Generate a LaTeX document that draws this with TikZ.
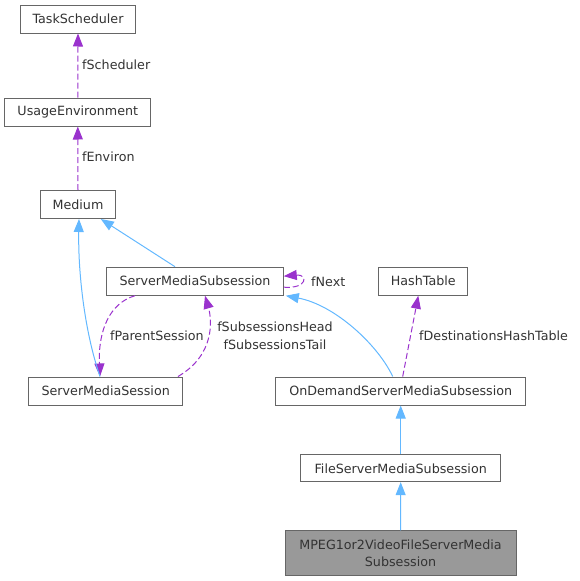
\documentclass[tikz,border=0pt]{standalone}
\usepackage{fontspec}
\setmainfont{DejaVu Sans}
\usetikzlibrary{arrows.meta}
\definecolor{inhblue}{HTML}{63B8FF}
\definecolor{usepurple}{HTML}{9A32CD}
\definecolor{boxgray}{HTML}{666666}
\definecolor{curgray}{HTML}{999999}
\definecolor{txtgray}{HTML}{333333}

\begin{document}
\begin{tikzpicture}[x=1pt,y=-1pt,
    every node/.style={font=\fontsize{12.7}{17.7}\selectfont,text=txtgray},
    cls/.style={draw=boxgray,fill=white,line width=1pt,minimum height=28pt,inner sep=0pt,align=center},
    inherit/.style={draw=inhblue,line width=1pt,-{Triangle[length=13pt,width=10pt]}},
    member/.style={draw=usepurple,line width=1pt,dash pattern=on 6pt off 3pt,-{Triangle[length=13pt,width=10pt]}},
    lbl/.style={anchor=west,inner sep=0pt}]

    \useasboundingbox (0,0) rectangle (579,581);

    % Left column (environment classes)
    \node[cls,minimum width=114.6pt] (ts) at (78,19) {TaskScheduler};
    \node[cls,minimum width=145.7pt] (ue) at (77.8,112) {UsageEnvironment};
    \node[cls,minimum width=74.6pt] (medium) at (78,204.5) {Medium};

    % Middle row
    \node[cls,minimum width=176.6pt] (smsub) at (195,281.2) {ServerMediaSubsession};
    \node[cls,minimum width=88.7pt] (hash) at (423.3,281.2) {HashTable};
    \node[cls,minimum width=154pt] (smses) at (105.7,391) {ServerMediaSession};
    \node[cls,minimum width=250pt] (ondemand) at (400.7,391) {OnDemandServerMediaSubsession};

    % Bottom chain
    \node[cls,minimum width=200pt,minimum height=26.7pt] (fsms) at (400.7,468.3) {FileServerMediaSubsession};
    \node[cls,fill=curgray,minimum width=231pt,minimum height=44.7pt] (mpeg) at (400.5,553.3)
      {MPEG1or2VideoFileServerMedia\\Subsession};

    % Usage relations
    \draw[member] (ue.north) -- (ts.south);
    \draw[member] (medium.north) -- (ue.south);
    \draw[member] ([yshift=-6pt]smsub.east) .. controls (308,289) and (308,274) .. ([yshift=5pt]smsub.east);
    \draw[member] ([xshift=-60pt]smsub.south) .. controls (110,303) and (98,330) .. ([xshift=-5.7pt]smses.north);
    \draw[member] ([xshift=72.3pt]smses.north) .. controls (215,355) and (212,320) .. ([xshift=10pt]smsub.south);
    \draw[member] ([xshift=2pt]ondemand.north) -- ([xshift=-5pt]hash.south);

    % Inheritance
    \draw[inherit] ([xshift=-20pt]smsub.north) -- ([xshift=-15pt]medium.south east);
    \draw[inherit] ([xshift=-5.7pt]smses.north) .. controls (84,330) and (78,270) .. ([xshift=1pt]medium.south);
    \draw[inherit] ([xshift=-8pt]ondemand.north) .. controls (378,345) and (335,305) .. ([xshift=2pt]smsub.south east);
    \draw[inherit] (fsms.north) -- (ondemand.south);
    \draw[inherit] (mpeg.north) -- (fsms.south);

    % Edge labels
    \node[lbl] (lsched) at (82,65) {fScheduler};
    \node[lbl] (lenv) at (82,157) {fEnviron};
    \node[lbl] (lnext) at (311,282) {fNext};
    \node[lbl] (lparent) at (110,336) {fParentSession};
    \node[align=center,inner sep=0pt] (lsubs) at (275,336) {fSubsessionsHead\\fSubsessionsTail};
    \node[lbl] (ldest) at (419,336) {fDestinationsHashTable};
\end{tikzpicture}
\end{document}
